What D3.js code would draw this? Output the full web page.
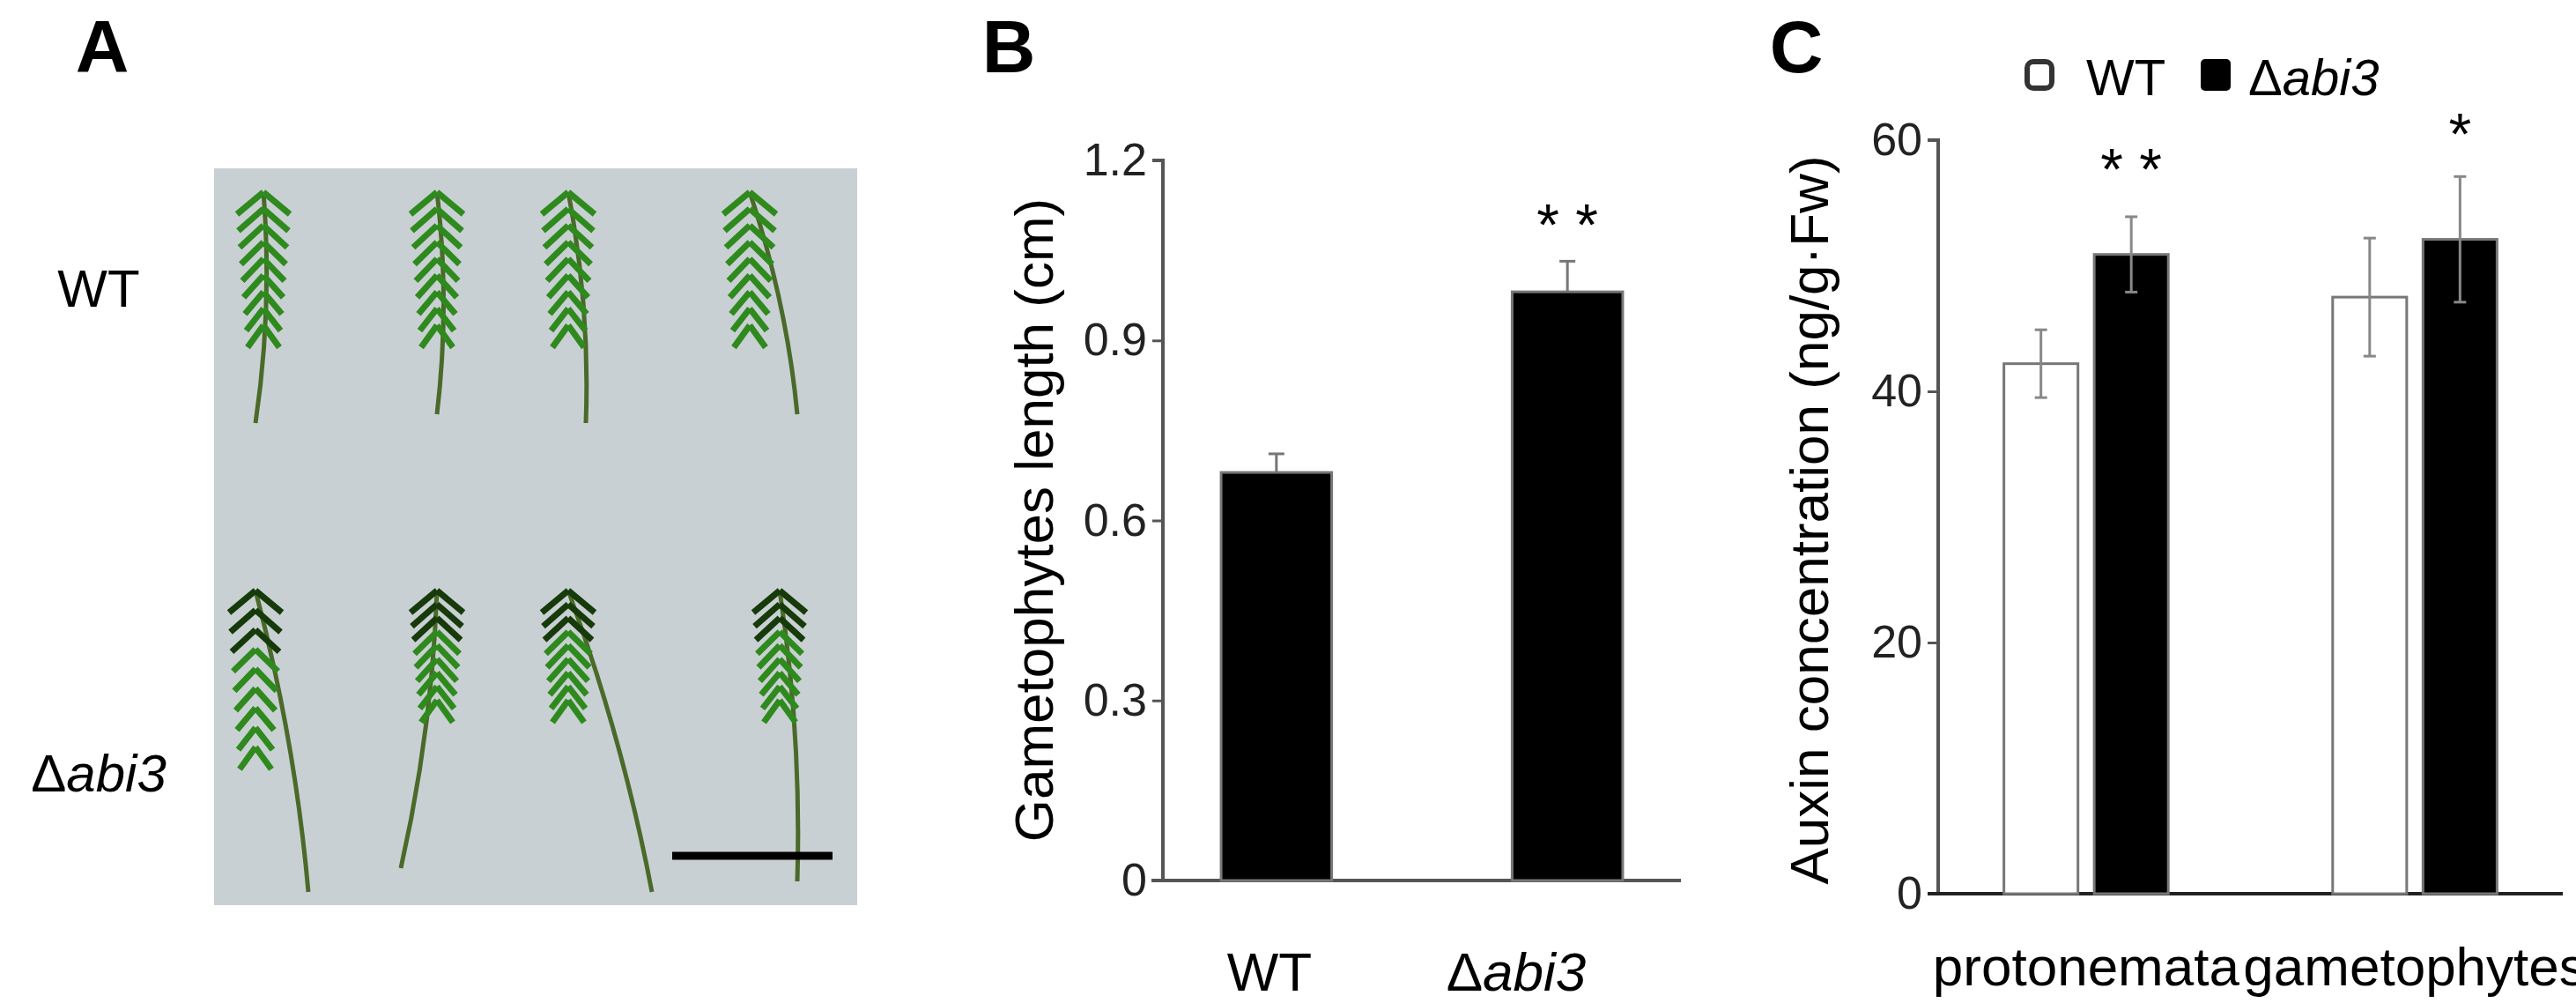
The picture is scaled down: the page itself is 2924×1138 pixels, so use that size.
<!DOCTYPE html>
<html><head><meta charset="utf-8">
<script src="https://cdn.jsdelivr.net/npm/d3@7"></script>
<style>body{margin:0;background:#fff}text{font-family:"Liberation Sans",Arial,sans-serif}</style>
</head><body><svg id="c" width="2924" height="1138"></svg>
<script>
// Panel B data
const bCats = ["WT", "abi3"];
const bVals = [0.68, 0.981];
const bErr = [0.031, 0.051];
const bTicks = [0, 0.3, 0.6, 0.9, 1.2];
// Panel C data
const cCats = ["protonemata", "gametophytes"];
const cSeries = ["WT", "abi3"];
const cWT = [42.2, 47.5];
const cWTErr = [2.7, 4.7];
const cAbi = [50.9, 52.1];
const cAbiErr = [3.0, 5.0];
const cTicks = [0, 20, 40, 60];

const svg = d3.select("#c");
const axisCol = "#555";

[["A",116],["B",1145],["C",2039]].forEach(([t,x])=>svg.append("text").attr("x",x).attr("y",82).attr("font-size",84).attr("font-weight","bold").attr("text-anchor","middle").text(t));

// Panel A (photo approximation)
const A = svg.append("g");
A.append("rect").attr("x",243).attr("y",191).attr("width",730).attr("height",836).attr("fill","#c9d0d3");
const plants = [[299,218,290,480],[496,218,496,470],[645,218,665,480],[851,218,905,470],
                [290,670,350,1012],[496,670,455,985],[645,670,740,1012],[885,670,905,1000]];
plants.forEach(([x1,y1,x2,y2],i)=>{
  A.append("path").attr("d",`M${x1},${y1} Q${(x1+x2)/2+15},${(y1+y2)/2} ${x2},${y2}`).attr("stroke","#4a6a2a").attr("stroke-width",5).attr("fill","none");
  const th = i<4?170:(i==4?200:140);
  for(let k=0;k<9;k++){
    const yy=y1+k*th/9, w=30-k*1.5;
    A.append("path").attr("d",`M${x1},${yy} L${x1-w},${yy+25} M${x1},${yy} L${x1+w},${yy+25}`).attr("stroke",i>=4&&k<3?"#163a0a":"#2f8a1e").attr("stroke-width",7);
  }
});
A.append("line").attr("x1",763).attr("x2",945).attr("y1",971).attr("y2",971).attr("stroke","#000").attr("stroke-width",9);
svg.append("text").attr("x",112).attr("y",348).attr("font-size",60).attr("text-anchor","middle").text("WT");
const ta = svg.append("text").attr("x",112).attr("y",898).attr("font-size",60).attr("text-anchor","middle");
ta.append("tspan").text("Δ"); ta.append("tspan").attr("font-style","italic").text("abi3");

// Panel B
const bx = d3.scaleBand().domain(bCats).range([1320,1908]).paddingInner(0.62).paddingOuter(0.2);
const by = d3.scaleLinear().domain([0,1.2]).range([999,182]);
const gB = svg.append("g");
const yaB = gB.append("g").attr("transform","translate(1320,0)").call(d3.axisLeft(by).tickValues(bTicks).tickFormat(d=>d===0?"0":d3.format(".1f")(d)).tickSize(12).tickPadding(6));
yaB.select(".domain").attr("stroke",axisCol).attr("stroke-width",4).attr("d","M-12,182H0V999");
yaB.selectAll(".tick line").attr("stroke",axisCol).attr("stroke-width",3);
yaB.selectAll("text").attr("font-size",52).attr("fill","#222");
gB.append("line").attr("x1",1307).attr("x2",1908).attr("y1",999).attr("y2",999).attr("stroke",axisCol).attr("stroke-width",4);
gB.selectAll(".bar").data(bCats).join("rect").attr("x",d=>bx(d)).attr("width",bx.bandwidth()).attr("y",(d,i)=>by(bVals[i])).attr("height",(d,i)=>999-by(bVals[i])).attr("fill","#000").attr("stroke","#777").attr("stroke-width",3);
bCats.forEach((d,i)=>{
  const cx=bx(d)+bx.bandwidth()/2;
  gB.append("line").attr("x1",cx).attr("x2",cx).attr("y1",by(bVals[i])).attr("y2",by(bVals[i]+bErr[i])).attr("stroke","#777").attr("stroke-width",3);
  gB.append("line").attr("x1",cx-9).attr("x2",cx+9).attr("y1",by(bVals[i]+bErr[i])).attr("y2",by(bVals[i]+bErr[i])).attr("stroke","#777").attr("stroke-width",3);
});
gB.append("text").attr("x",bx("abi3")+bx.bandwidth()/2).attr("y",278).attr("font-size",66).attr("text-anchor","middle").text("*  *");
gB.append("text").attr("transform","translate(1195,590) rotate(-90)").attr("font-size",62).attr("text-anchor","middle").text("Gametophytes length (cm)");
gB.append("text").attr("x",1441).attr("y",1124).attr("font-size",62).attr("text-anchor","middle").text("WT");
const tb = gB.append("text").attr("x",1721).attr("y",1124).attr("font-size",62).attr("text-anchor","middle");
tb.append("tspan").text("Δ"); tb.append("tspan").attr("font-style","italic").text("abi3");

// Panel C
const cx0 = d3.scaleBand().domain(cCats).range([2200,2909]).paddingInner(0.5).paddingOuter(0.2);
const cx1 = d3.scaleBand().domain(cSeries).range([0,cx0.bandwidth()]).paddingInner(0.18);
const cy = d3.scaleLinear().domain([0,60]).range([1014,159]);
const gC = svg.append("g");
const yaC = gC.append("g").attr("transform","translate(2200,0)").call(d3.axisLeft(cy).tickValues(cTicks).tickSize(12).tickPadding(6));
yaC.select(".domain").attr("stroke",axisCol).attr("stroke-width",4).attr("d","M-12,159H0V1014");
yaC.selectAll(".tick line").attr("stroke",axisCol).attr("stroke-width",3);
yaC.selectAll("text").attr("font-size",52).attr("fill","#222");
gC.append("line").attr("x1",2188).attr("x2",2909).attr("y1",1014).attr("y2",1014).attr("stroke","#222").attr("stroke-width",4);
const cData = [];
cCats.forEach((c,i)=>{cData.push({c,s:"WT",v:cWT[i],e:cWTErr[i]});cData.push({c,s:"abi3",v:cAbi[i],e:cAbiErr[i]});});
cData.forEach(d=>{
  const x=cx0(d.c)+cx1(d.s), w=cx1.bandwidth(), m=x+w/2;
  gC.append("rect").attr("x",x).attr("width",w).attr("y",cy(d.v)).attr("height",1014-cy(d.v)).attr("fill",d.s==="WT"?"#fff":"#000").attr("stroke","#777").attr("stroke-width",3);
  gC.append("line").attr("x1",m).attr("x2",m).attr("y1",cy(d.v-d.e)).attr("y2",cy(d.v+d.e)).attr("stroke","#888").attr("stroke-width",3);
  [d.v-d.e,d.v+d.e].forEach(v=>gC.append("line").attr("x1",m-7).attr("x2",m+7).attr("y1",cy(v)).attr("y2",cy(v)).attr("stroke","#888").attr("stroke-width",3));
});
gC.append("text").attr("x",cx0("protonemata")+cx1("abi3")+cx1.bandwidth()/2).attr("y",215).attr("font-size",66).attr("text-anchor","middle").text("*  *");
gC.append("text").attr("x",cx0("gametophytes")+cx1("abi3")+cx1.bandwidth()/2).attr("y",175).attr("font-size",66).attr("text-anchor","middle").text("*");
gC.append("text").attr("transform","translate(2075,590) rotate(-90)").attr("font-size",62).attr("text-anchor","middle").text("Auxin concentration (ng/g·Fw)");
cCats.forEach(c=>gC.append("text").attr("x",cx0(c)+cx0.bandwidth()/2).attr("y",1118).attr("font-size",62).attr("text-anchor","middle").text(c));
gC.append("rect").attr("x",2301).attr("y",70).attr("width",28).attr("height",30).attr("rx",7).attr("fill","#fff").attr("stroke","#333").attr("stroke-width",6);
gC.append("text").attr("x",2368).attr("y",108).attr("font-size",58).text("WT");
gC.append("rect").attr("x",2498).attr("y",67).attr("width",34).attr("height",36).attr("rx",5).attr("fill","#000");
const tl = gC.append("text").attr("x",2552).attr("y",108).attr("font-size",58);
tl.append("tspan").text("Δ"); tl.append("tspan").attr("font-style","italic").text("abi3");
</script></body></html>
